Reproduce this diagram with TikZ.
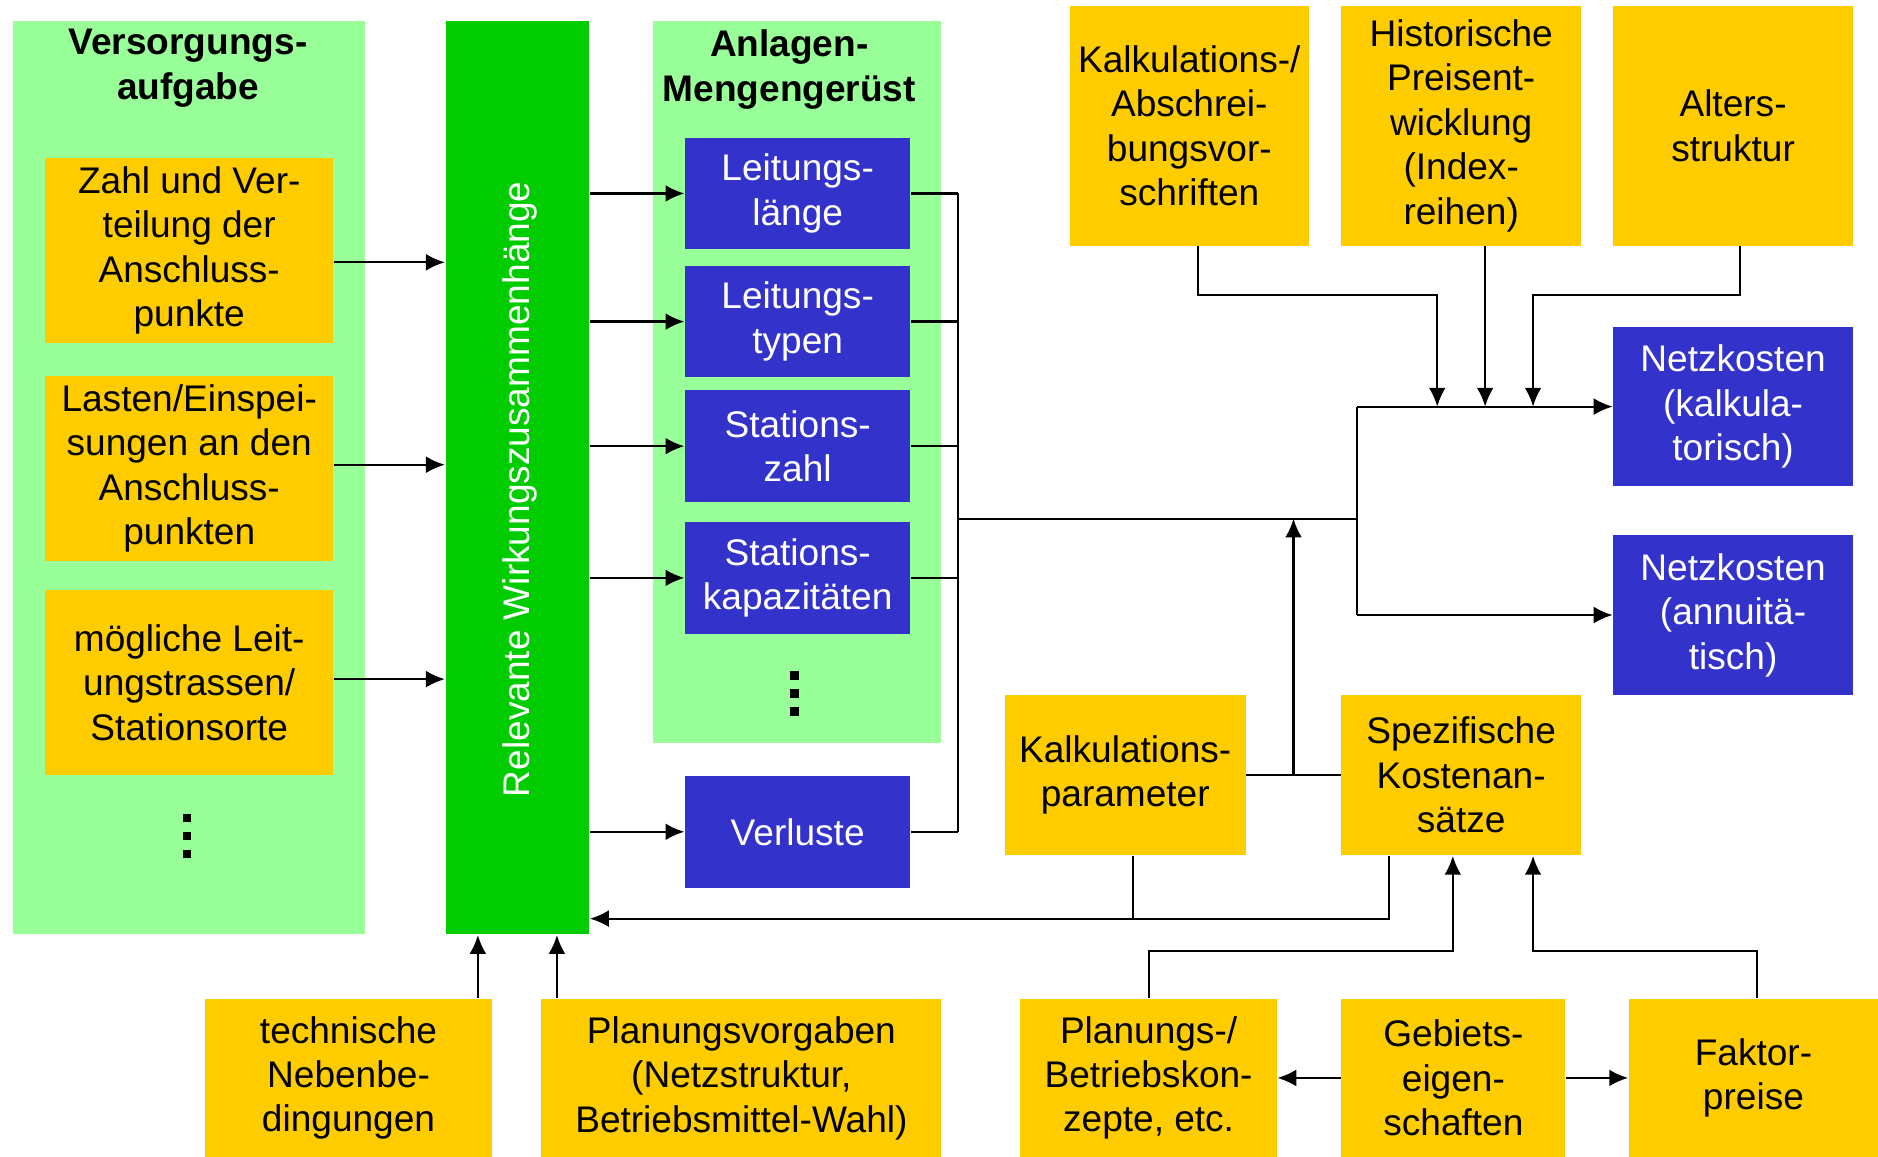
\documentclass[tikz,border=0pt]{standalone}
\usepackage{fontspec}
\setmainfont{Liberation Sans}
\usepackage{tikz}
\usetikzlibrary{arrows.meta,positioning,calc}
\usepackage{xcolor}
\definecolor{panelgreen}{HTML}{99FF99}
\definecolor{bargreen}{HTML}{00CC00}
\definecolor{boxorange}{HTML}{FFCC00}
\definecolor{boxblue}{HTML}{3333CC}
\newcommand{\boxfont}{\fontsize{11}{13.2}\selectfont}

\begin{document}
\begin{tikzpicture}[
    x=0.0125cm, y=-0.0125cm,
    >={Latex[length=5.6pt,width=5pt]},
    panel/.style={fill=panelgreen, inner sep=0pt},
    head/.style={align=center, font=\boxfont\bfseries},
    orangebox/.style={fill=boxorange, inner sep=0pt, align=center, font=\boxfont},
    bluebox/.style={fill=boxblue, text=white, inner sep=0pt, align=center, font=\boxfont},
    flow/.style={->, line width=0.65pt},
    wire/.style={line width=0.65pt}
]
    \useasboundingbox (0,0) rectangle (1568,966);

    % Versorgungsaufgabe
    \node[panel, minimum width=3.675cm, minimum height=9.525cm] (vpanel) at (158,399) {};
    \node[head] (vhead) at (157,57) {Versorgungs-\\aufgabe};
    \node[orangebox, minimum width=3cm, minimum height=1.925cm] (zahl) at (158,209) {Zahl und Ver-\\teilung der\\Anschluss-\\punkte};
    \node[orangebox, minimum width=3cm, minimum height=1.925cm] (lasten) at (158,391) {Lasten/Einspei-\\sungen an den\\Anschluss-\\punkten};
    \node[orangebox, minimum width=3cm, minimum height=1.925cm] (trassen) at (158,570) {mögliche Leit-\\ungstrassen/\\Stationsorte};
    \foreach \y in {683,698,713} \fill (152.5,\y-3.5) rectangle ++(7,7);

    % Wirkungszusammenhaenge
    \node[fill=bargreen, inner sep=0pt, minimum width=1.5cm, minimum height=9.525cm] (bar) at (432,399) {};
    \node[rotate=90, text=white, font=\boxfont] (barlabel) at (434,408.5) {Relevante Wirkungszusammenhänge};

    % Anlagen-Mengengeruest
    \node[panel, minimum width=3.0125cm, minimum height=7.525cm] (mpanel) at (665.5,319) {};
    \node[head] (mhead) at (659,58) {Anlagen-\\Mengengerüst};
    \node[bluebox, minimum width=2.35cm, minimum height=1.1625cm] (laenge) at (666,161.5) {Leitungs-\\länge};
    \node[bluebox, minimum width=2.35cm, minimum height=1.1625cm] (typen) at (666,268.5) {Leitungs-\\typen};
    \node[bluebox, minimum width=2.35cm, minimum height=1.1625cm] (szahl) at (666,372.5) {Stations-\\zahl};
    \node[bluebox, minimum width=2.35cm, minimum height=1.1625cm] (skap) at (666,482.5) {Stations-\\kapazitäten};
    \foreach \y in {564,579,594} \fill (660,\y-3.5) rectangle ++(7,7);
    \node[bluebox, minimum width=2.35cm, minimum height=1.1625cm] (verluste) at (666,694.5) {Verluste};

    % Einflussgroessen oben
    \node[orangebox, minimum width=2.5cm, minimum height=2.5cm] (abschr) at (993,105) {Kalkulations-/\\Abschrei-\\bungsvor-\\schriften};
    \node[orangebox, minimum width=2.5cm, minimum height=2.5cm] (preis) at (1220,105) {Historische\\Preisent-\\wicklung\\(Index-\\reihen)};
    \node[orangebox, minimum width=2.5cm, minimum height=2.5cm] (alter) at (1447,105) {Alters-\\struktur};

    % Netzkosten
    \node[bluebox, minimum width=2.5cm, minimum height=1.6625cm] (kalk) at (1447,339.5) {Netzkosten\\(kalkula-\\torisch)};
    \node[bluebox, minimum width=2.5cm, minimum height=1.6625cm] (annu) at (1447,513.5) {Netzkosten\\(annuitä-\\tisch)};

    % Parameter
    \node[orangebox, minimum width=2.5125cm, minimum height=1.675cm] (param) at (939.5,647) {Kalkulations-\\parameter};
    \node[orangebox, minimum width=2.5cm, minimum height=1.675cm] (spez) at (1220,647) {Spezifische\\Kostenan-\\sätze};

    % Einflussgroessen unten
    \node[orangebox, minimum width=3cm, minimum height=1.65cm] (technik) at (291,900) {technische\\Nebenbe-\\dingungen};
    \node[orangebox, minimum width=4.175cm, minimum height=1.65cm] (vorgaben) at (619,900) {Planungsvorgaben\\(Netzstruktur,\\Betriebsmittel-Wahl)};
    \node[orangebox, minimum width=2.675cm, minimum height=1.65cm] (konzepte) at (959,900) {Planungs-/\\Betriebskon-\\zepte, etc.};
    \node[orangebox, minimum width=2.3375cm, minimum height=1.65cm] (gebiet) at (1213.5,900) {Gebiets-\\eigen-\\schaften};
    \node[orangebox, minimum width=2.6cm, minimum height=1.65cm] (faktor) at (1464,900) {Faktor-\\preise};

    % Hilfspunkte
    \coordinate (bus) at (800,433);
    \coordinate (split) at (1133,433);
    \coordinate (toprow) at (0,246);
    \coordinate (fbrow) at (0,767);
    \coordinate (botrow) at (0,794);
    \coordinate (a1) at (0,219);
    \coordinate (a2) at (0,388);
    \coordinate (a3) at (0,567);
    \coordinate (in0) at (1000,0);
    \coordinate (in1) at (1200,0);
    \coordinate (in2) at (1240,0);
    \coordinate (in3) at (1280,0);
    \coordinate (in4) at (1453,0);
    \coordinate (up) at (1080,647);
    \coordinate (pk) at (946,0);
    \coordinate (fb) at (1160,0);
    \coordinate (tnx) at (399,0);
    \coordinate (pvx) at (465,0);
    \coordinate (sk1) at (1213,0);
    \coordinate (sk2) at (1280,0);
    \coordinate (fpx) at (1467,0);

    % Versorgungsaufgabe -> Wirkungszusammenhaenge
    \draw[flow] (zahl.east |- a1) -- (bar.west |- a1);
    \draw[flow] (lasten.east |- a2) -- (bar.west |- a2);
    \draw[flow] (trassen.east |- a3) -- (bar.west |- a3);

    % Wirkungszusammenhaenge -> Mengengeruest -> Sammelleitung
    \foreach \n in {laenge,typen,szahl,skap,verluste} {
        \draw[flow] (\n.west -| bar.east) -- (\n.west);
        \draw[wire] (\n.east) -- (\n.east -| bus);
    }
    \draw[wire] (laenge.east -| bus) -- (verluste.east -| bus);
    \draw[wire] (bus) -- (split);
    \draw[wire] (split |- kalk.west) -- (split |- annu.west);
    \draw[flow] (split |- kalk.west) -- (kalk.west);
    \draw[flow] (split |- annu.west) -- (annu.west);

    % Einflussgroessen oben
    \draw[flow] (in0 |- abschr.south) |- (in1 |- toprow) -- (in1 |- kalk.west);
    \draw[flow] (in2 |- preis.south) -- (in2 |- kalk.west);
    \draw[flow] (in4 |- alter.south) |- (in3 |- toprow) -- (in3 |- kalk.west);

    % Parameter
    \draw[wire] (param.east) -- (spez.west);
    \draw[flow] (up) -- (up |- bus);
    \draw[wire] (pk |- param.south) -- (pk |- fbrow);
    \draw[flow] (fb |- spez.south) |- (bar.east |- fbrow);

    % Einflussgroessen unten
    \draw[flow] (tnx |- technik.north) -- (tnx |- bar.south);
    \draw[flow] (pvx |- vorgaben.north) -- (pvx |- bar.south);
    \draw[flow] (konzepte.north) |- (sk1 |- botrow) -- (sk1 |- spez.south);
    \draw[flow] (fpx |- faktor.north) |- (sk2 |- botrow) -- (sk2 |- spez.south);
    \draw[flow] (gebiet.west) -- (konzepte.east);
    \draw[flow] (gebiet.east) -- (faktor.west);
\end{tikzpicture}
\end{document}
